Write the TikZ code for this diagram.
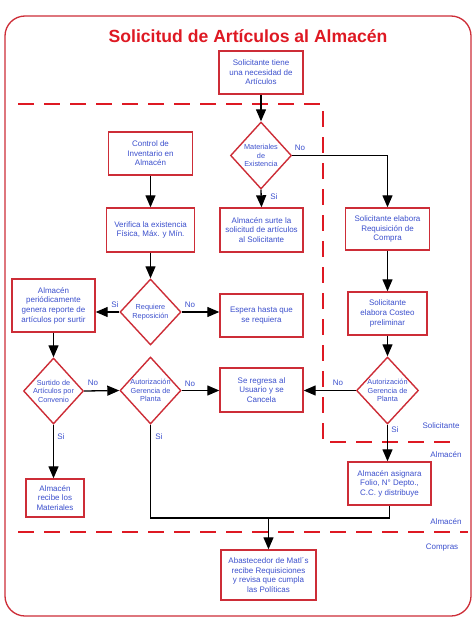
\documentclass[tikz,border=0pt]{standalone}
\usepackage{fontspec}
\setmainfont{Liberation Sans}
\usetikzlibrary{arrows.meta,shapes.geometric}
\definecolor{bred}{RGB}{205,45,55}
\definecolor{dred}{RGB}{222,25,35}
\definecolor{tblue}{RGB}{60,80,205}
\begin{document}
\begin{tikzpicture}[x=1pt,y=-1pt,
  box/.style={draw=bred, line width=1.4pt, fill=white, text=tblue, font=\fontsize{8}{9.6}\selectfont, align=center, inner sep=1pt},
  dia/.style={draw=bred, line width=1.4pt, shape=diamond, minimum width=61, minimum height=66, inner sep=0pt, fill=white},
  dtext/.style={text=tblue, font=\fontsize{7.3}{8.6}\selectfont, align=center, inner sep=0pt},
  arr/.style={-{Triangle[length=12pt,width=10pt]}, line width=1.3pt, black},
  conn/.style={line width=1.3pt, black},
  lab/.style={text=tblue, font=\fontsize{8}{9}\selectfont, inner sep=0pt},
  lane/.style={dred, line width=2.6pt, dash pattern=on 16pt off 10pt}]
\useasboundingbox (0,0) rectangle (474,632);
% outer frame
\draw[bred, line width=1.3pt, rounded corners=20pt] (5,16) rectangle (471,616);
\node[text=dred, font=\fontsize{17.6}{20}\selectfont\bfseries] (title) at (248,36) {Solicitud de Artículos al Almacén};
% lanes
\draw[lane] (18,104) -- (323,104) -- (323,442) -- (456,442);
\draw[lane] (18,532) -- (468,532);
\node[lab] (lsol) at (441,426) {Solicitante};
\node[lab] (lalm1) at (446,455) {Almacén};
\node[lab] (lalm2) at (446,522) {Almacén};
\node[lab] (lcom) at (442,548) {Compras};
% boxes
\node[box, minimum width=84, minimum height=43] (start) at (261,72.5) {Solicitante tiene\\una necesidad de\\Artículos};
\node[box, minimum width=84, minimum height=43] (ctrl) at (150.5,153.5) {Control de\\Inventario en\\Almacén};
\node[box, minimum width=88, minimum height=44] (verif) at (150.5,230) {Verifica la existencia\\Física, Máx. y Mín.};
\node[box, minimum width=83, minimum height=44] (surte) at (261.5,230) {Almacén surte la\\solicitud de artículos\\al Solicitante};
\node[box, minimum width=84, minimum height=42] (req) at (387.5,229) {Solicitante elabora\\Requisición de\\Compra};
\node[box, minimum width=83, minimum height=53] (almrep) at (53.5,305.5) {Almacén\\periódicamente\\genera reporte de\\artículos por surtir};
\node[box, minimum width=83, minimum height=43] (espera) at (261.5,315.5) {Espera hasta que\\se requiera};
\node[box, minimum width=79, minimum height=43] (costeo) at (387.5,313.5) {Solicitante\\elabora Costeo\\preliminar};
\node[box, minimum width=83, minimum height=44] (regresa) at (261.5,390) {Se regresa al\\Usuario y se\\Cancela};
\node[box, minimum width=58, minimum height=38] (recibe) at (55,498) {Almacén\\recibe los\\Materiales};
\node[box, minimum width=83, minimum height=43] (folio) at (389.5,483.5) {Almacén asignara\\Folio, N° Depto.,\\C.C. y distribuye};
\node[box, minimum width=95, minimum height=50] (abast) at (268.5,575) {Abastecedor de Matl´s\\recibe Requisiciones\\y revisa que cumpla\\las Políticas};
% diamonds
\node[dia, minimum height=67] (mat) at (261,155.5) {};
\node[dtext] (matt) at (mat) {Materiales\\de\\Existencia};
\node[dia] (rep) at (150.5,312) {};
\node[dtext] (rept) at (rep) {Requiere\\Reposición};
\node[dia, minimum width=60] (surt) at (53.5,391) {};
\node[dtext] (surtt) at (surt) {Surtido de\\Artículos por\\Convenio};
\node[dia, minimum height=67] (aut1) at (150.5,390.5) {};
\node[dtext] (aut1t) at (aut1) {Autorización\\Gerencia de\\Planta};
\node[dia, minimum width=62, minimum height=67] (aut2) at (387.5,390.5) {};
\node[dtext] (aut2t) at (aut2) {Autorización\\Gerencia de\\Planta};
% connectors
\draw[arr] (start.south) -- (mat.north);
\draw[arr] (mat.east) -| (req.north);
\draw[arr] (mat.south) -- (surte.north);
\draw[arr] (ctrl.south) -- (verif.north);
\draw[arr] (verif.south) -- (rep.north);
\draw[arr] (rep.west) -- (rep.west -| almrep.east);
\draw[arr] (rep.east) -- (rep.east -| espera.west);
\draw[arr] (almrep.south) -- (surt.north);
\draw[arr] (surt.east) -- (aut1.west);
\draw[arr] (aut1.east) -- (aut1.east -| regresa.west);
\draw[arr] (req.south) -- (costeo.north);
\draw[arr] (costeo.south) -- (aut2.north);
\draw[arr] (aut2.west) -- (aut2.west -| regresa.east);
\draw[arr] (aut2.south) -- (aut2.south |- folio.north);
\draw[arr] (surt.south) -- (surt.south |- recibe.north);
\coordinate (j) at (268.5,518);
\draw[conn] (aut1.south) |- (j) -| (folio.south);
\draw[arr] (j) -- (abast.north);
% labels
\node[lab] (l1) at (300,148) {No};
\node[lab] (l2) at (274,197) {Si};
\node[lab] (l3) at (115,305) {Si};
\node[lab] (l4) at (190,305) {No};
\node[lab] (l5) at (93,383) {No};
\node[lab] (l6) at (190,384) {No};
\node[lab] (l7) at (61,437) {Si};
\node[lab] (l8) at (159,437) {Si};
\node[lab] (l9) at (338,383) {No};
\node[lab] (l10) at (395,430) {Si};
\end{tikzpicture}
\end{document}
